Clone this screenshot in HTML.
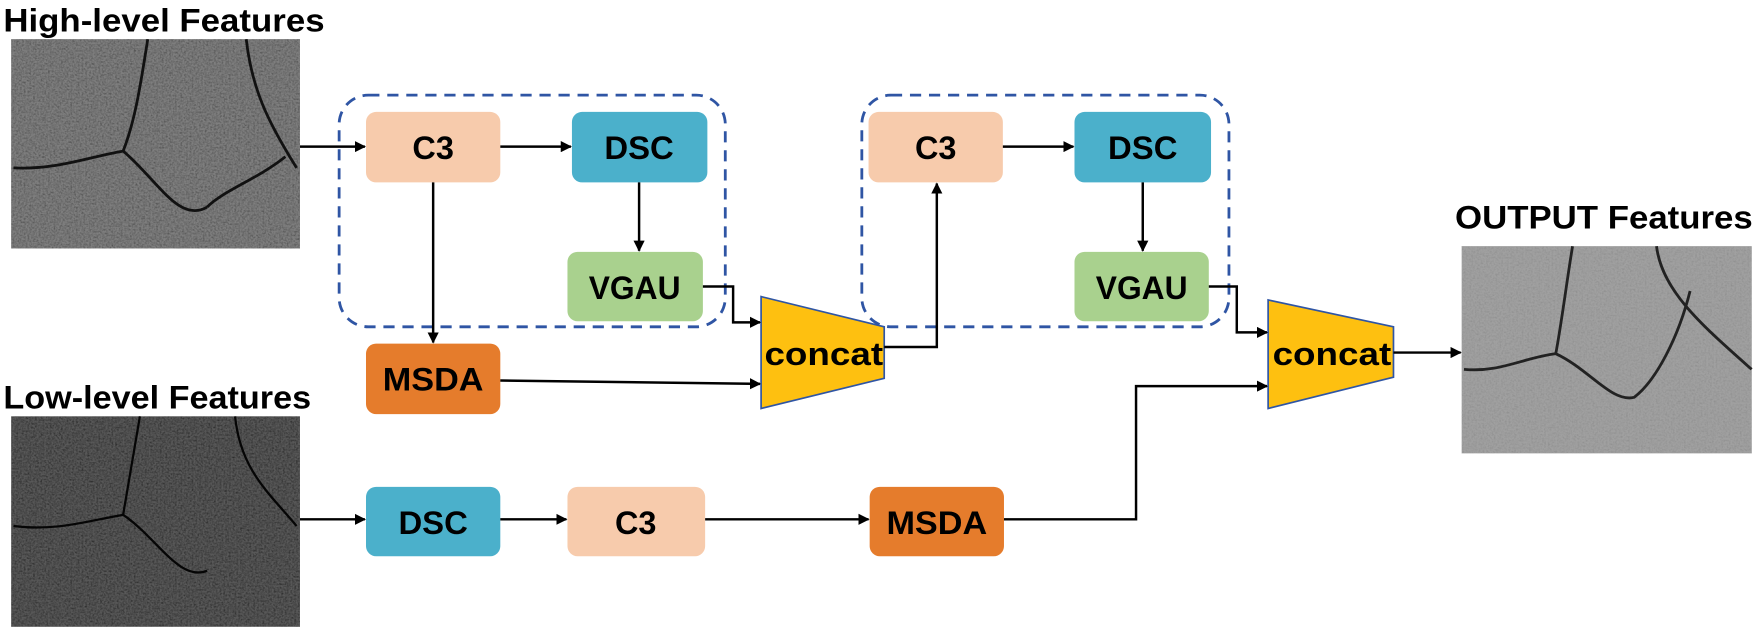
<!DOCTYPE html>
<html><head><meta charset="utf-8"><style>
html,body{margin:0;padding:0;background:#fff}
svg{display:block}
text{font-family:"Liberation Sans",Arial,sans-serif;font-weight:bold}
</style></head><body>
<svg width="1755" height="629" viewBox="0 0 1568 562" preserveAspectRatio="none" xmlns="http://www.w3.org/2000/svg">
<defs>
<marker id="a" markerWidth="10" markerHeight="10" refX="9" refY="5" orient="auto" markerUnits="userSpaceOnUse"><path d="M0,0 L10,5 L0,10 z" fill="#000"/></marker>
<filter id="n1" x="0" y="0" width="100%" height="100%"><feTurbulence type="fractalNoise" baseFrequency="0.6" numOctaves="2" seed="3"/><feColorMatrix type="matrix" values="0 0 0 0 0.42  0 0 0 0 0.42  0 0 0 0 0.42  0.9 0.9 0.9 0 -0.6"/></filter>
</defs>
<g font-size="29" fill="#000">
<text x="3" y="28" textLength="287" lengthAdjust="spacingAndGlyphs">High-level Features</text>
<text x="3" y="365" textLength="275" lengthAdjust="spacingAndGlyphs">Low-level Features</text>
<text x="1300" y="204" textLength="266" lengthAdjust="spacingAndGlyphs">OUTPUT Features</text>
</g>
<!-- images -->
<rect x="10" y="35" width="258" height="187" fill="#505050"/>
<rect x="10" y="35" width="258" height="187" fill="#888" filter="url(#n1)" opacity="0.5"/>
<g stroke="#111" stroke-width="2.5" fill="none">
<path d="M12,150 C50,152 80,140 110,135 C140,160 160,200 185,185"/>
<path d="M110,135 C120,110 125,80 132,35"/>
<path d="M220,35 C225,80 240,110 265,150"/>
<path d="M185,185 C200,170 230,160 255,140"/>
</g>
<rect x="10" y="372" width="258" height="188" fill="#2a2a2a"/>
<rect x="10" y="372" width="258" height="188" fill="#555" filter="url(#n1)" opacity="0.35"/>
<g stroke="#050505" stroke-width="2" fill="none">
<path d="M12,470 C50,475 80,465 110,460 C140,480 160,520 185,510"/>
<path d="M110,460 C115,430 120,400 125,372"/>
<path d="M210,372 C215,420 240,440 265,470"/>
</g>
<rect x="1306" y="220" width="259" height="185" fill="#8e8e8e"/>
<rect x="1306" y="220" width="259" height="185" fill="#ccc" filter="url(#n1)" opacity="0.6"/>
<g stroke="#222" stroke-width="2.5" fill="none">
<path d="M1308,330 C1340,333 1360,320 1390,316 C1420,330 1440,360 1460,355 C1480,340 1500,300 1510,260"/>
<path d="M1390,316 C1395,290 1400,250 1405,220"/>
<path d="M1480,220 C1485,260 1520,290 1565,330"/>
</g>
<!-- dashed boxes -->
<rect x="303" y="85" width="345" height="207" rx="26" fill="none" stroke="#2f55a4" stroke-width="2.5" stroke-dasharray="10,7"/>
<rect x="770" y="85" width="328" height="207" rx="26" fill="none" stroke="#2f55a4" stroke-width="2.5" stroke-dasharray="10,7"/>
<!-- boxes -->
<g>
<rect x="327" y="100" width="120" height="63" rx="9" fill="#f7cbac"/>
<rect x="511" y="100" width="121" height="63" rx="9" fill="#4bb0cb"/>
<rect x="507" y="225" width="121" height="62" rx="9" fill="#a9d18e"/>
<rect x="327" y="307" width="120" height="63" rx="9" fill="#e57c2c"/>
<rect x="776" y="100" width="120" height="63" rx="9" fill="#f7cbac"/>
<rect x="960" y="100" width="122" height="63" rx="9" fill="#4bb0cb"/>
<rect x="960" y="225" width="120" height="62" rx="9" fill="#a9d18e"/>
<rect x="327" y="435" width="120" height="62" rx="9" fill="#4bb0cb"/>
<rect x="507" y="435" width="123" height="62" rx="9" fill="#f7cbac"/>
<rect x="777" y="435" width="120" height="62" rx="9" fill="#e57c2c"/>
</g>
<path d="M680,265 L790,292 L790,338 L680,365 Z" fill="#fec010" stroke="#2f55a4" stroke-width="1.5"/>
<path d="M1133,268 L1245,292 L1245,337 L1133,365 Z" fill="#fec010" stroke="#2f55a4" stroke-width="1.5"/>
<g font-size="29" text-anchor="middle" fill="#000">
<text x="387" y="142">C3</text>
<text x="571" y="142" textLength="62" lengthAdjust="spacingAndGlyphs">DSC</text>
<text x="567" y="267" textLength="82" lengthAdjust="spacingAndGlyphs">VGAU</text>
<text x="387" y="349" textLength="90" lengthAdjust="spacingAndGlyphs">MSDA</text>
<text x="836" y="142">C3</text>
<text x="1021" y="142" textLength="62" lengthAdjust="spacingAndGlyphs">DSC</text>
<text x="1020" y="267" textLength="82" lengthAdjust="spacingAndGlyphs">VGAU</text>
<text x="387" y="477" textLength="62" lengthAdjust="spacingAndGlyphs">DSC</text>
<text x="568" y="477">C3</text>
<text x="837" y="477" textLength="90" lengthAdjust="spacingAndGlyphs">MSDA</text>
<text x="736" y="326" textLength="106" lengthAdjust="spacingAndGlyphs">concat</text>
<text x="1190" y="326" textLength="106" lengthAdjust="spacingAndGlyphs">concat</text>
</g>
<!-- arrows -->
<g stroke="#000" stroke-width="2.2" fill="none" marker-end="url(#a)">
<path d="M268,131 L326,131"/>
<path d="M447,131 L510,131"/>
<path d="M387,163 L387,306"/>
<path d="M571,163 L571,224"/>
<path d="M628,256 L655,256 L655,288 L679,288"/>
<path d="M447,340 L679,343"/>
<path d="M790,310 L837,310 L837,164"/>
<path d="M896,131 L959,131"/>
<path d="M1021,163 L1021,224"/>
<path d="M1080,256 L1105,256 L1105,297 L1132,297"/>
<path d="M268,464 L326,464"/>
<path d="M447,464 L506,464"/>
<path d="M630,464 L776,464"/>
<path d="M897,464 L1015,464 L1015,345 L1132,345"/>
<path d="M1245,315 L1305,315"/>
</g>
</svg>
</body></html>
